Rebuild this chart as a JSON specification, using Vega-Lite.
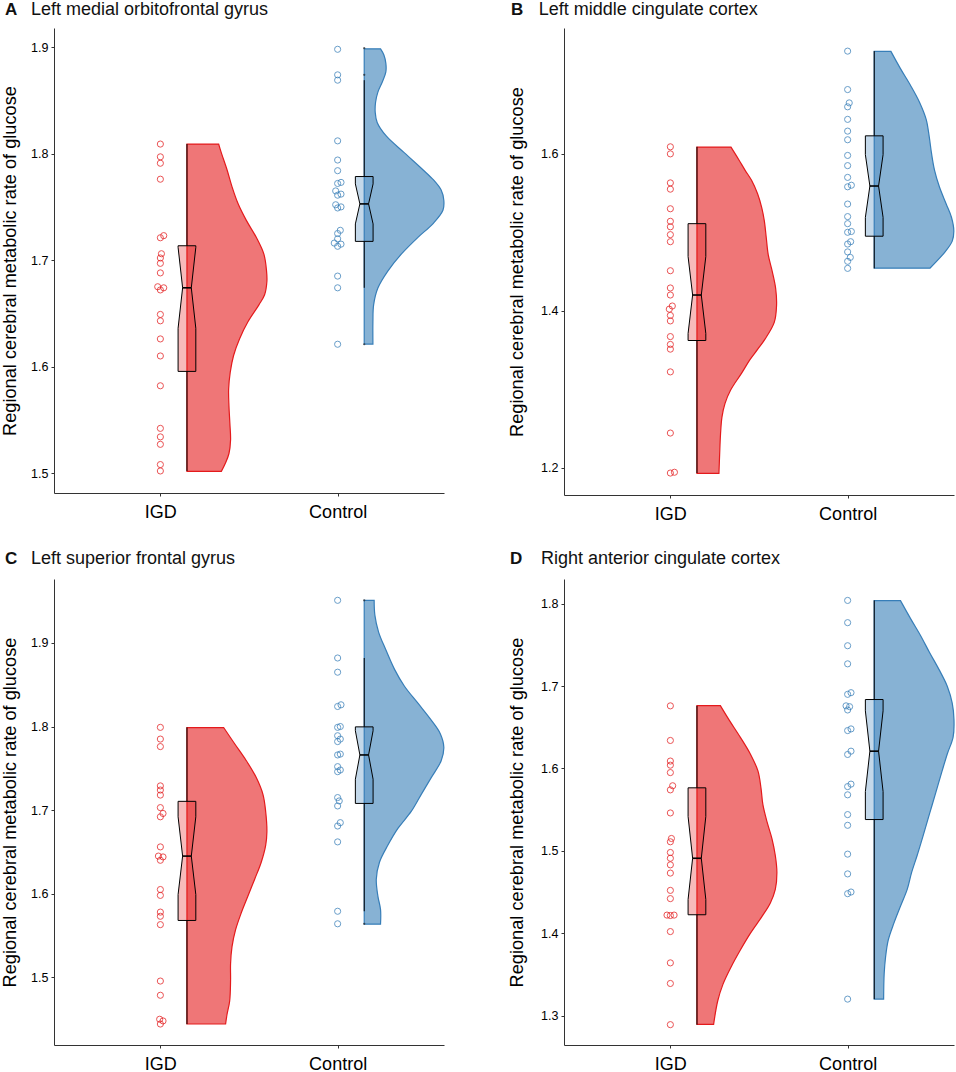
{"$schema":"https://vega.github.io/schema/vega-lite/v6.json","background":"white","padding":{"left":0,"top":0,"right":0,"bottom":0},"config":{"view":{"stroke":null},"font":"Liberation Sans","axis":{"grid":false,"domainColor":"#333333","tickColor":"#333333","labelColor":"#000000","titleColor":"#000000","titleFontWeight":"normal","labelFont":"Liberation Sans","titleFont":"Liberation Sans"}},
"datasets":{
"violin":[
{"panel":"A","group":"IGD","base":1.15,"value":1.809,"edge":1.329},{"panel":"A","group":"IGD","base":1.15,"value":1.8007,"edge":1.344},{"panel":"A","group":"IGD","base":1.15,"value":1.7849,"edge":1.376},{"panel":"A","group":"IGD","base":1.15,"value":1.769,"edge":1.404},{"panel":"A","group":"IGD","base":1.15,"value":1.7531,"edge":1.438},{"panel":"A","group":"IGD","base":1.15,"value":1.7373,"edge":1.485},{"panel":"A","group":"IGD","base":1.15,"value":1.7214,"edge":1.541},{"panel":"A","group":"IGD","base":1.15,"value":1.7056,"edge":1.584},{"panel":"A","group":"IGD","base":1.15,"value":1.6897,"edge":1.599},{"panel":"A","group":"IGD","base":1.15,"value":1.6802,"edge":1.601},{"panel":"A","group":"IGD","base":1.15,"value":1.6675,"edge":1.588},{"panel":"A","group":"IGD","base":1.15,"value":1.658,"edge":1.556},{"panel":"A","group":"IGD","base":1.15,"value":1.6421,"edge":1.494},{"panel":"A","group":"IGD","base":1.15,"value":1.6262,"edge":1.447},{"panel":"A","group":"IGD","base":1.15,"value":1.6104,"edge":1.413},{"panel":"A","group":"IGD","base":1.15,"value":1.5945,"edge":1.394},{"panel":"A","group":"IGD","base":1.15,"value":1.5787,"edge":1.385},{"panel":"A","group":"IGD","base":1.15,"value":1.5628,"edge":1.387},{"panel":"A","group":"IGD","base":1.15,"value":1.5469,"edge":1.392},{"panel":"A","group":"IGD","base":1.15,"value":1.5311,"edge":1.396},{"panel":"A","group":"IGD","base":1.15,"value":1.5184,"edge":1.387},{"panel":"A","group":"IGD","base":1.15,"value":1.5089,"edge":1.366},{"panel":"A","group":"IGD","base":1.15,"value":1.5016,"edge":1.344},
{"panel":"A","group":"Control","base":2.15,"value":1.8984,"edge":2.242},{"panel":"A","group":"Control","base":2.15,"value":1.8927,"edge":2.261},{"panel":"A","group":"Control","base":2.15,"value":1.8848,"edge":2.272},{"panel":"A","group":"Control","base":2.15,"value":1.8768,"edge":2.272},{"panel":"A","group":"Control","base":2.15,"value":1.8673,"edge":2.252},{"panel":"A","group":"Control","base":2.15,"value":1.8578,"edge":2.227},{"panel":"A","group":"Control","base":2.15,"value":1.8483,"edge":2.214},{"panel":"A","group":"Control","base":2.15,"value":1.8388,"edge":2.212},{"panel":"A","group":"Control","base":2.15,"value":1.8293,"edge":2.223},{"panel":"A","group":"Control","base":2.15,"value":1.8166,"edge":2.274},{"panel":"A","group":"Control","base":2.15,"value":1.8007,"edge":2.377},{"panel":"A","group":"Control","base":2.15,"value":1.7849,"edge":2.481},{"panel":"A","group":"Control","base":2.15,"value":1.7753,"edge":2.541},{"panel":"A","group":"Control","base":2.15,"value":1.7658,"edge":2.584},{"panel":"A","group":"Control","base":2.15,"value":1.7563,"edge":2.599},{"panel":"A","group":"Control","base":2.15,"value":1.7468,"edge":2.594},{"panel":"A","group":"Control","base":2.15,"value":1.7341,"edge":2.537},{"panel":"A","group":"Control","base":2.15,"value":1.7214,"edge":2.453},{"panel":"A","group":"Control","base":2.15,"value":1.7056,"edge":2.359},{"panel":"A","group":"Control","base":2.15,"value":1.6897,"edge":2.283},{"panel":"A","group":"Control","base":2.15,"value":1.6738,"edge":2.227},{"panel":"A","group":"Control","base":2.15,"value":1.658,"edge":2.203},{"panel":"A","group":"Control","base":2.15,"value":1.6421,"edge":2.199},{"panel":"A","group":"Control","base":2.15,"value":1.6212,"edge":2.199},
{"panel":"B","group":"IGD","base":1.15,"value":1.6086,"edge":1.342},{"panel":"B","group":"IGD","base":1.15,"value":1.5922,"edge":1.387},{"panel":"B","group":"IGD","base":1.15,"value":1.5793,"edge":1.421},{"panel":"B","group":"IGD","base":1.15,"value":1.5663,"edge":1.458},{"panel":"B","group":"IGD","base":1.15,"value":1.5491,"edge":1.492},{"panel":"B","group":"IGD","base":1.15,"value":1.5318,"edge":1.515},{"panel":"B","group":"IGD","base":1.15,"value":1.5146,"edge":1.53},{"panel":"B","group":"IGD","base":1.15,"value":1.493,"edge":1.541},{"panel":"B","group":"IGD","base":1.15,"value":1.4714,"edge":1.552},{"panel":"B","group":"IGD","base":1.15,"value":1.4498,"edge":1.575},{"panel":"B","group":"IGD","base":1.15,"value":1.4283,"edge":1.594},{"panel":"B","group":"IGD","base":1.15,"value":1.4067,"edge":1.599},{"panel":"B","group":"IGD","base":1.15,"value":1.3851,"edge":1.586},{"panel":"B","group":"IGD","base":1.15,"value":1.3635,"edge":1.533},{"panel":"B","group":"IGD","base":1.15,"value":1.3506,"edge":1.492},{"panel":"B","group":"IGD","base":1.15,"value":1.3376,"edge":1.449},{"panel":"B","group":"IGD","base":1.15,"value":1.3204,"edge":1.402},{"panel":"B","group":"IGD","base":1.15,"value":1.2988,"edge":1.34},{"panel":"B","group":"IGD","base":1.15,"value":1.2816,"edge":1.308},{"panel":"B","group":"IGD","base":1.15,"value":1.2643,"edge":1.291},{"panel":"B","group":"IGD","base":1.15,"value":1.2427,"edge":1.283},{"panel":"B","group":"IGD","base":1.15,"value":1.2168,"edge":1.278},{"panel":"B","group":"IGD","base":1.15,"value":1.1927,"edge":1.274},
{"panel":"B","group":"Control","base":2.15,"value":1.7307,"edge":2.244},{"panel":"B","group":"Control","base":2.15,"value":1.7087,"edge":2.298},{"panel":"B","group":"Control","base":2.15,"value":1.6872,"edge":2.355},{"panel":"B","group":"Control","base":2.15,"value":1.6656,"edge":2.406},{"panel":"B","group":"Control","base":2.15,"value":1.644,"edge":2.443},{"panel":"B","group":"Control","base":2.15,"value":1.6224,"edge":2.46},{"panel":"B","group":"Control","base":2.15,"value":1.6009,"edge":2.473},{"panel":"B","group":"Control","base":2.15,"value":1.5793,"edge":2.49},{"panel":"B","group":"Control","base":2.15,"value":1.5577,"edge":2.518},{"panel":"B","group":"Control","base":2.15,"value":1.5361,"edge":2.556},{"panel":"B","group":"Control","base":2.15,"value":1.5189,"edge":2.586},{"panel":"B","group":"Control","base":2.15,"value":1.5016,"edge":2.599},{"panel":"B","group":"Control","base":2.15,"value":1.4887,"edge":2.59},{"panel":"B","group":"Control","base":2.15,"value":1.4757,"edge":2.552},{"panel":"B","group":"Control","base":2.15,"value":1.4542,"edge":2.464},
{"panel":"C","group":"IGD","base":1.15,"value":1.7988,"edge":1.357},{"panel":"C","group":"IGD","base":1.15,"value":1.7794,"edge":1.419},{"panel":"C","group":"IGD","base":1.15,"value":1.7591,"edge":1.485},{"panel":"C","group":"IGD","base":1.15,"value":1.7389,"edge":1.541},{"panel":"C","group":"IGD","base":1.15,"value":1.7186,"edge":1.579},{"panel":"C","group":"IGD","base":1.15,"value":1.6984,"edge":1.594},{"panel":"C","group":"IGD","base":1.15,"value":1.6741,"edge":1.601},{"panel":"C","group":"IGD","base":1.15,"value":1.6579,"edge":1.594},{"panel":"C","group":"IGD","base":1.15,"value":1.6377,"edge":1.569},{"panel":"C","group":"IGD","base":1.15,"value":1.6174,"edge":1.532},{"panel":"C","group":"IGD","base":1.15,"value":1.5972,"edge":1.494},{"panel":"C","group":"IGD","base":1.15,"value":1.5769,"edge":1.456},{"panel":"C","group":"IGD","base":1.15,"value":1.5567,"edge":1.424},{"panel":"C","group":"IGD","base":1.15,"value":1.5364,"edge":1.404},{"panel":"C","group":"IGD","base":1.15,"value":1.5162,"edge":1.396},{"panel":"C","group":"IGD","base":1.15,"value":1.496,"edge":1.396},{"panel":"C","group":"IGD","base":1.15,"value":1.4717,"edge":1.391},{"panel":"C","group":"IGD","base":1.15,"value":1.4555,"edge":1.376},{"panel":"C","group":"IGD","base":1.15,"value":1.4441,"edge":1.368},
{"panel":"C","group":"Control","base":2.15,"value":1.951,"edge":2.206},{"panel":"C","group":"Control","base":2.15,"value":1.9332,"edge":2.21},{"panel":"C","group":"Control","base":2.15,"value":1.913,"edge":2.231},{"panel":"C","group":"Control","base":2.15,"value":1.8927,"edge":2.27},{"panel":"C","group":"Control","base":2.15,"value":1.8684,"edge":2.321},{"panel":"C","group":"Control","base":2.15,"value":1.8482,"edge":2.377},{"panel":"C","group":"Control","base":2.15,"value":1.8279,"edge":2.453},{"panel":"C","group":"Control","base":2.15,"value":1.8077,"edge":2.528},{"panel":"C","group":"Control","base":2.15,"value":1.7915,"edge":2.579},{"panel":"C","group":"Control","base":2.15,"value":1.7753,"edge":2.599},{"panel":"C","group":"Control","base":2.15,"value":1.7591,"edge":2.584},{"panel":"C","group":"Control","base":2.15,"value":1.7389,"edge":2.528},{"panel":"C","group":"Control","base":2.15,"value":1.7186,"edge":2.471},{"panel":"C","group":"Control","base":2.15,"value":1.6984,"edge":2.415},{"panel":"C","group":"Control","base":2.15,"value":1.6781,"edge":2.34},{"panel":"C","group":"Control","base":2.15,"value":1.6579,"edge":2.283},{"panel":"C","group":"Control","base":2.15,"value":1.6377,"edge":2.236},{"panel":"C","group":"Control","base":2.15,"value":1.6174,"edge":2.218},{"panel":"C","group":"Control","base":2.15,"value":1.5972,"edge":2.227},{"panel":"C","group":"Control","base":2.15,"value":1.581,"edge":2.242},{"panel":"C","group":"Control","base":2.15,"value":1.5636,"edge":2.242},
{"panel":"D","group":"IGD","base":1.15,"value":1.6763,"edge":1.282},{"panel":"D","group":"IGD","base":1.15,"value":1.6587,"edge":1.332},{"panel":"D","group":"IGD","base":1.15,"value":1.6381,"edge":1.394},{"panel":"D","group":"IGD","base":1.15,"value":1.6176,"edge":1.451},{"panel":"D","group":"IGD","base":1.15,"value":1.597,"edge":1.494},{"panel":"D","group":"IGD","base":1.15,"value":1.5765,"edge":1.511},{"panel":"D","group":"IGD","base":1.15,"value":1.556,"edge":1.522},{"panel":"D","group":"IGD","base":1.15,"value":1.5354,"edge":1.545},{"panel":"D","group":"IGD","base":1.15,"value":1.5149,"edge":1.573},{"panel":"D","group":"IGD","base":1.15,"value":1.4943,"edge":1.592},{"panel":"D","group":"IGD","base":1.15,"value":1.4738,"edge":1.601},{"panel":"D","group":"IGD","base":1.15,"value":1.4532,"edge":1.592},{"panel":"D","group":"IGD","base":1.15,"value":1.4368,"edge":1.564},{"panel":"D","group":"IGD","base":1.15,"value":1.4204,"edge":1.517},{"panel":"D","group":"IGD","base":1.15,"value":1.3998,"edge":1.451},{"panel":"D","group":"IGD","base":1.15,"value":1.3793,"edge":1.394},{"panel":"D","group":"IGD","base":1.15,"value":1.3588,"edge":1.342},{"panel":"D","group":"IGD","base":1.15,"value":1.3382,"edge":1.297},{"panel":"D","group":"IGD","base":1.15,"value":1.3177,"edge":1.267},{"panel":"D","group":"IGD","base":1.15,"value":1.2893,"edge":1.244},
{"panel":"D","group":"Control","base":2.15,"value":1.8037,"edge":2.298},{"panel":"D","group":"Control","base":2.15,"value":1.7819,"edge":2.355},{"panel":"D","group":"Control","base":2.15,"value":1.7614,"edge":2.411},{"panel":"D","group":"Control","base":2.15,"value":1.7408,"edge":2.462},{"panel":"D","group":"Control","base":2.15,"value":1.7203,"edge":2.515},{"panel":"D","group":"Control","base":2.15,"value":1.6998,"edge":2.562},{"panel":"D","group":"Control","base":2.15,"value":1.6792,"edge":2.59},{"panel":"D","group":"Control","base":2.15,"value":1.6587,"edge":2.6},{"panel":"D","group":"Control","base":2.15,"value":1.6381,"edge":2.595},{"panel":"D","group":"Control","base":2.15,"value":1.6176,"edge":2.562},{"panel":"D","group":"Control","base":2.15,"value":1.597,"edge":2.533},{"panel":"D","group":"Control","base":2.15,"value":1.5765,"edge":2.505},{"panel":"D","group":"Control","base":2.15,"value":1.556,"edge":2.477},{"panel":"D","group":"Control","base":2.15,"value":1.5354,"edge":2.449},{"panel":"D","group":"Control","base":2.15,"value":1.5149,"edge":2.421},{"panel":"D","group":"Control","base":2.15,"value":1.4943,"edge":2.392},{"panel":"D","group":"Control","base":2.15,"value":1.4738,"edge":2.361},{"panel":"D","group":"Control","base":2.15,"value":1.4532,"edge":2.336},{"panel":"D","group":"Control","base":2.15,"value":1.4327,"edge":2.298},{"panel":"D","group":"Control","base":2.15,"value":1.4122,"edge":2.261},{"panel":"D","group":"Control","base":2.15,"value":1.3916,"edge":2.229},{"panel":"D","group":"Control","base":2.15,"value":1.3711,"edge":2.214},{"panel":"D","group":"Control","base":2.15,"value":1.3505,"edge":2.206},{"panel":"D","group":"Control","base":2.15,"value":1.3201,"edge":2.203}
],
"box":[
{"panel":"A","group":"IGD","value":1.7135,"left":1.1,"right":1.2},{"panel":"A","group":"IGD","value":1.712,"left":1.1,"right":1.2},{"panel":"A","group":"IGD","value":1.674,"left":1.1255,"right":1.1745},{"panel":"A","group":"IGD","value":1.636,"left":1.1,"right":1.2},{"panel":"A","group":"IGD","value":1.5955,"left":1.1,"right":1.2},
{"panel":"A","group":"Control","value":1.7785,"left":2.1,"right":2.2},{"panel":"A","group":"Control","value":1.7716,"left":2.1,"right":2.2},{"panel":"A","group":"Control","value":1.7528,"left":2.1255,"right":2.1745},{"panel":"A","group":"Control","value":1.734,"left":2.1,"right":2.2},{"panel":"A","group":"Control","value":1.7176,"left":2.1,"right":2.2},
{"panel":"B","group":"IGD","value":1.511,"left":1.1,"right":1.2},{"panel":"B","group":"IGD","value":1.469,"left":1.1,"right":1.2},{"panel":"B","group":"IGD","value":1.42,"left":1.1255,"right":1.1745},{"panel":"B","group":"IGD","value":1.371,"left":1.1,"right":1.2},{"panel":"B","group":"IGD","value":1.362,"left":1.1,"right":1.2},
{"panel":"B","group":"Control","value":1.623,"left":2.1,"right":2.2},{"panel":"B","group":"Control","value":1.599,"left":2.1,"right":2.2},{"panel":"B","group":"Control","value":1.559,"left":2.1255,"right":2.1745},{"panel":"B","group":"Control","value":1.519,"left":2.1,"right":2.2},{"panel":"B","group":"Control","value":1.495,"left":2.1,"right":2.2},
{"panel":"C","group":"IGD","value":1.7105,"left":1.1,"right":1.2},{"panel":"C","group":"IGD","value":1.692,"left":1.1,"right":1.2},{"panel":"C","group":"IGD","value":1.645,"left":1.1255,"right":1.1745},{"panel":"C","group":"IGD","value":1.599,"left":1.1,"right":1.2},{"panel":"C","group":"IGD","value":1.568,"left":1.1,"right":1.2},
{"panel":"C","group":"Control","value":1.7996,"left":2.1,"right":2.2},{"panel":"C","group":"Control","value":1.795,"left":2.1,"right":2.2},{"panel":"C","group":"Control","value":1.766,"left":2.1255,"right":2.1745},{"panel":"C","group":"Control","value":1.737,"left":2.1,"right":2.2},{"panel":"C","group":"Control","value":1.708,"left":2.1,"right":2.2},
{"panel":"D","group":"IGD","value":1.5765,"left":1.1,"right":1.2},{"panel":"D","group":"IGD","value":1.5416,"left":1.1,"right":1.2},{"panel":"D","group":"IGD","value":1.491,"left":1.1255,"right":1.1745},{"panel":"D","group":"IGD","value":1.441,"left":1.1,"right":1.2},{"panel":"D","group":"IGD","value":1.4224,"left":1.1,"right":1.2},
{"panel":"D","group":"Control","value":1.6837,"left":2.1,"right":2.2},{"panel":"D","group":"Control","value":1.67,"left":2.1,"right":2.2},{"panel":"D","group":"Control","value":1.621,"left":2.1255,"right":2.1745},{"panel":"D","group":"Control","value":1.572,"left":2.1,"right":2.2},{"panel":"D","group":"Control","value":1.538,"left":2.1,"right":2.2}
],
"median":[
{"panel":"A","group":"IGD","value":1.674,"left":1.1255,"right":1.1745},{"panel":"A","group":"Control","value":1.7528,"left":2.1255,"right":2.1745},{"panel":"B","group":"IGD","value":1.42,"left":1.1255,"right":1.1745},{"panel":"B","group":"Control","value":1.559,"left":2.1255,"right":2.1745},{"panel":"C","group":"IGD","value":1.645,"left":1.1255,"right":1.1745},{"panel":"C","group":"Control","value":1.766,"left":2.1255,"right":2.1745},{"panel":"D","group":"IGD","value":1.491,"left":1.1255,"right":1.1745},{"panel":"D","group":"Control","value":1.621,"left":2.1255,"right":2.1745}
],
"whisker":[
{"panel":"A","x":1.15,"lo":1.7135,"hi":1.809},{"panel":"A","x":1.15,"lo":1.502,"hi":1.5955},{"panel":"A","x":2.15,"lo":1.7785,"hi":1.869},{"panel":"A","x":2.15,"lo":1.674,"hi":1.7176},
{"panel":"B","x":1.15,"lo":1.511,"hi":1.609},{"panel":"B","x":1.15,"lo":1.193,"hi":1.362},{"panel":"B","x":2.15,"lo":1.623,"hi":1.731},{"panel":"B","x":2.15,"lo":1.454,"hi":1.495},
{"panel":"C","x":1.15,"lo":1.7105,"hi":1.799},{"panel":"C","x":1.15,"lo":1.444,"hi":1.568},{"panel":"C","x":2.15,"lo":1.7996,"hi":1.882},{"panel":"C","x":2.15,"lo":1.579,"hi":1.708},
{"panel":"D","x":1.15,"lo":1.5765,"hi":1.676},{"panel":"D","x":1.15,"lo":1.289,"hi":1.4224},{"panel":"D","x":2.15,"lo":1.6837,"hi":1.804},{"panel":"D","x":2.15,"lo":1.32,"hi":1.538}
],
"outlier":[
{"panel":"A","x":2.15,"value":1.899},{"panel":"A","x":2.15,"value":1.874},{"panel":"A","x":2.15,"value":1.621},{"panel":"C","x":2.15,"value":1.951},{"panel":"C","x":2.15,"value":1.564}
],
"points":[
{"panel":"A","group":"IGD","x":1,"value":1.809},{"panel":"A","group":"IGD","x":1,"value":1.797},{"panel":"A","group":"IGD","x":1,"value":1.791},{"panel":"A","group":"IGD","x":1,"value":1.776},{"panel":"A","group":"IGD","x":1.019,"value":1.723},{"panel":"A","group":"IGD","x":1,"value":1.721},{"panel":"A","group":"IGD","x":1.006,"value":1.706},{"panel":"A","group":"IGD","x":1,"value":1.702},{"panel":"A","group":"IGD","x":1,"value":1.697},{"panel":"A","group":"IGD","x":1,"value":1.688},{"panel":"A","group":"IGD","x":0.985,"value":1.675},{"panel":"A","group":"IGD","x":1.019,"value":1.674},{"panel":"A","group":"IGD","x":1,"value":1.672},{"panel":"A","group":"IGD","x":1,"value":1.649},{"panel":"A","group":"IGD","x":1,"value":1.643},{"panel":"A","group":"IGD","x":1,"value":1.626},{"panel":"A","group":"IGD","x":1,"value":1.61},{"panel":"A","group":"IGD","x":1,"value":1.582},{"panel":"A","group":"IGD","x":1,"value":1.542},{"panel":"A","group":"IGD","x":1,"value":1.534},{"panel":"A","group":"IGD","x":1,"value":1.527},{"panel":"A","group":"IGD","x":1,"value":1.508},{"panel":"A","group":"IGD","x":1,"value":1.502},
{"panel":"A","group":"Control","x":2,"value":1.898},{"panel":"A","group":"Control","x":2,"value":1.874},{"panel":"A","group":"Control","x":2,"value":1.869},{"panel":"A","group":"Control","x":2,"value":1.812},{"panel":"A","group":"Control","x":2,"value":1.794},{"panel":"A","group":"Control","x":2,"value":1.784},{"panel":"A","group":"Control","x":2.019,"value":1.773},{"panel":"A","group":"Control","x":2,"value":1.772},{"panel":"A","group":"Control","x":1.989,"value":1.765},{"panel":"A","group":"Control","x":2.019,"value":1.762},{"panel":"A","group":"Control","x":2,"value":1.761},{"panel":"A","group":"Control","x":1.989,"value":1.752},{"panel":"A","group":"Control","x":2.019,"value":1.75},{"panel":"A","group":"Control","x":2,"value":1.749},{"panel":"A","group":"Control","x":2.015,"value":1.728},{"panel":"A","group":"Control","x":2,"value":1.725},{"panel":"A","group":"Control","x":2,"value":1.72},{"panel":"A","group":"Control","x":1.981,"value":1.716},{"panel":"A","group":"Control","x":2.019,"value":1.715},{"panel":"A","group":"Control","x":2,"value":1.713},{"panel":"A","group":"Control","x":2,"value":1.685},{"panel":"A","group":"Control","x":2,"value":1.674},{"panel":"A","group":"Control","x":2,"value":1.621},
{"panel":"B","group":"IGD","x":1,"value":1.609},{"panel":"B","group":"IGD","x":1,"value":1.6},{"panel":"B","group":"IGD","x":1,"value":1.563},{"panel":"B","group":"IGD","x":1,"value":1.555},{"panel":"B","group":"IGD","x":1,"value":1.53},{"panel":"B","group":"IGD","x":1,"value":1.514},{"panel":"B","group":"IGD","x":1,"value":1.507},{"panel":"B","group":"IGD","x":1,"value":1.497},{"panel":"B","group":"IGD","x":1,"value":1.488},{"panel":"B","group":"IGD","x":1,"value":1.451},{"panel":"B","group":"IGD","x":1,"value":1.429},{"panel":"B","group":"IGD","x":1,"value":1.42},{"panel":"B","group":"IGD","x":1.011,"value":1.406},{"panel":"B","group":"IGD","x":0.994,"value":1.402},{"panel":"B","group":"IGD","x":1,"value":1.394},{"panel":"B","group":"IGD","x":1,"value":1.387},{"panel":"B","group":"IGD","x":1,"value":1.367},{"panel":"B","group":"IGD","x":1,"value":1.357},{"panel":"B","group":"IGD","x":1,"value":1.351},{"panel":"B","group":"IGD","x":1,"value":1.322},{"panel":"B","group":"IGD","x":1,"value":1.244},{"panel":"B","group":"IGD","x":1.023,"value":1.194},{"panel":"B","group":"IGD","x":1,"value":1.193},
{"panel":"B","group":"Control","x":2,"value":1.731},{"panel":"B","group":"Control","x":2,"value":1.682},{"panel":"B","group":"Control","x":2.009,"value":1.665},{"panel":"B","group":"Control","x":2,"value":1.66},{"panel":"B","group":"Control","x":2,"value":1.644},{"panel":"B","group":"Control","x":2,"value":1.629},{"panel":"B","group":"Control","x":2,"value":1.618},{"panel":"B","group":"Control","x":2,"value":1.598},{"panel":"B","group":"Control","x":2,"value":1.585},{"panel":"B","group":"Control","x":2,"value":1.57},{"panel":"B","group":"Control","x":2.021,"value":1.56},{"panel":"B","group":"Control","x":2,"value":1.558},{"panel":"B","group":"Control","x":2,"value":1.536},{"panel":"B","group":"Control","x":2,"value":1.52},{"panel":"B","group":"Control","x":2,"value":1.511},{"panel":"B","group":"Control","x":2.021,"value":1.501},{"panel":"B","group":"Control","x":2,"value":1.5},{"panel":"B","group":"Control","x":2.017,"value":1.488},{"panel":"B","group":"Control","x":2,"value":1.485},{"panel":"B","group":"Control","x":2,"value":1.475},{"panel":"B","group":"Control","x":2.015,"value":1.468},{"panel":"B","group":"Control","x":2,"value":1.463},{"panel":"B","group":"Control","x":2,"value":1.454},
{"panel":"C","group":"IGD","x":1,"value":1.799},{"panel":"C","group":"IGD","x":1,"value":1.785},{"panel":"C","group":"IGD","x":1,"value":1.776},{"panel":"C","group":"IGD","x":1,"value":1.729},{"panel":"C","group":"IGD","x":1,"value":1.724},{"panel":"C","group":"IGD","x":1,"value":1.718},{"panel":"C","group":"IGD","x":1,"value":1.703},{"panel":"C","group":"IGD","x":1.015,"value":1.696},{"panel":"C","group":"IGD","x":1,"value":1.692},{"panel":"C","group":"IGD","x":1,"value":1.656},{"panel":"C","group":"IGD","x":0.989,"value":1.645},{"panel":"C","group":"IGD","x":1.015,"value":1.644},{"panel":"C","group":"IGD","x":1,"value":1.64},{"panel":"C","group":"IGD","x":1,"value":1.605},{"panel":"C","group":"IGD","x":1,"value":1.598},{"panel":"C","group":"IGD","x":1,"value":1.578},{"panel":"C","group":"IGD","x":1,"value":1.573},{"panel":"C","group":"IGD","x":1,"value":1.563},{"panel":"C","group":"IGD","x":1,"value":1.4955},{"panel":"C","group":"IGD","x":1,"value":1.4785},{"panel":"C","group":"IGD","x":0.996,"value":1.4498},{"panel":"C","group":"IGD","x":1.015,"value":1.4478},{"panel":"C","group":"IGD","x":1,"value":1.4441},
{"panel":"C","group":"Control","x":2,"value":1.951},{"panel":"C","group":"Control","x":2,"value":1.882},{"panel":"C","group":"Control","x":2,"value":1.865},{"panel":"C","group":"Control","x":2.019,"value":1.826},{"panel":"C","group":"Control","x":2,"value":1.824},{"panel":"C","group":"Control","x":2.015,"value":1.8},{"panel":"C","group":"Control","x":2,"value":1.799},{"panel":"C","group":"Control","x":2,"value":1.789},{"panel":"C","group":"Control","x":2.015,"value":1.785},{"panel":"C","group":"Control","x":2,"value":1.782},{"panel":"C","group":"Control","x":2.015,"value":1.767},{"panel":"C","group":"Control","x":2,"value":1.766},{"panel":"C","group":"Control","x":2,"value":1.752},{"panel":"C","group":"Control","x":2.015,"value":1.748},{"panel":"C","group":"Control","x":2,"value":1.746},{"panel":"C","group":"Control","x":2,"value":1.715},{"panel":"C","group":"Control","x":2.009,"value":1.711},{"panel":"C","group":"Control","x":2,"value":1.705},{"panel":"C","group":"Control","x":2.015,"value":1.685},{"panel":"C","group":"Control","x":2,"value":1.681},{"panel":"C","group":"Control","x":2,"value":1.662},{"panel":"C","group":"Control","x":2,"value":1.579},{"panel":"C","group":"Control","x":2,"value":1.564},
{"panel":"D","group":"IGD","x":1,"value":1.676},{"panel":"D","group":"IGD","x":1,"value":1.634},{"panel":"D","group":"IGD","x":1,"value":1.609},{"panel":"D","group":"IGD","x":1,"value":1.604},{"panel":"D","group":"IGD","x":1,"value":1.595},{"panel":"D","group":"IGD","x":1.013,"value":1.579},{"panel":"D","group":"IGD","x":1,"value":1.574},{"panel":"D","group":"IGD","x":1,"value":1.546},{"panel":"D","group":"IGD","x":1.006,"value":1.515},{"panel":"D","group":"IGD","x":1,"value":1.511},{"panel":"D","group":"IGD","x":1,"value":1.498},{"panel":"D","group":"IGD","x":1,"value":1.491},{"panel":"D","group":"IGD","x":1,"value":1.483},{"panel":"D","group":"IGD","x":1,"value":1.473},{"panel":"D","group":"IGD","x":1,"value":1.452},{"panel":"D","group":"IGD","x":1,"value":1.442},{"panel":"D","group":"IGD","x":0.981,"value":1.422},{"panel":"D","group":"IGD","x":1,"value":1.4215},{"panel":"D","group":"IGD","x":1.021,"value":1.422},{"panel":"D","group":"IGD","x":1,"value":1.402},{"panel":"D","group":"IGD","x":1,"value":1.364},{"panel":"D","group":"IGD","x":1,"value":1.339},{"panel":"D","group":"IGD","x":1,"value":1.289},
{"panel":"D","group":"Control","x":2,"value":1.804},{"panel":"D","group":"Control","x":2,"value":1.777},{"panel":"D","group":"Control","x":2,"value":1.749},{"panel":"D","group":"Control","x":2,"value":1.727},{"panel":"D","group":"Control","x":2.019,"value":1.692},{"panel":"D","group":"Control","x":2,"value":1.69},{"panel":"D","group":"Control","x":1.991,"value":1.676},{"panel":"D","group":"Control","x":2.011,"value":1.675},{"panel":"D","group":"Control","x":2,"value":1.671},{"panel":"D","group":"Control","x":2.019,"value":1.648},{"panel":"D","group":"Control","x":2,"value":1.646},{"panel":"D","group":"Control","x":2.019,"value":1.621},{"panel":"D","group":"Control","x":2,"value":1.617},{"panel":"D","group":"Control","x":2.019,"value":1.581},{"panel":"D","group":"Control","x":2,"value":1.578},{"panel":"D","group":"Control","x":2,"value":1.568},{"panel":"D","group":"Control","x":2,"value":1.544},{"panel":"D","group":"Control","x":2,"value":1.531},{"panel":"D","group":"Control","x":2,"value":1.496},{"panel":"D","group":"Control","x":2,"value":1.472},{"panel":"D","group":"Control","x":2.019,"value":1.45},{"panel":"D","group":"Control","x":2,"value":1.448},{"panel":"D","group":"Control","x":2,"value":1.32}
]
},
"columns":2,"bounds":"flush","spacing":{"row":84,"column":120},
"concat":[
{"width":390,"height":465,
"layer":[
{"data":{"name":"points"},"transform":[{"filter":"datum.panel==='A'"}],"mark":{"type":"point","shape":"circle","filled":false,"size":38,"strokeWidth":1,"opacity":0.75},"encoding":{"x":{"field":"x","type":"quantitative","scale":{"domain":[0.4,2.6],"nice":false,"zero":false},"axis":{"values":[1,2],"labelExpr":"datum.value==1?'IGD':'Control'","title":null,"labelFontSize":18,"labelPadding":7.5,"tickSize":3}},"y":{"field":"value","type":"quantitative","scale":{"domain":[1.4813,1.918],"nice":false,"zero":false},"axis":{"values":[1.5,1.6,1.7,1.8,1.9],"format":".1f","title":"Regional cerebral metabolic rate of glucose","labelFontSize":12.5,"titleFontSize":18.2,"tickSize":3,"labelPadding":3,"titlePadding":11}},"color":{"field":"group","type":"nominal","scale":{"domain":["IGD","Control"],"range":["#E41A1C","#377EB8"]},"legend":null}}},
{"data":{"name":"violin"},"transform":[{"filter":"datum.panel==='A'"}],"mark":{"type":"area","orient":"horizontal","interpolate":"catmull-rom","fillOpacity":0.6,"strokeWidth":1.2},"encoding":{"y":{"field":"value","type":"quantitative"},"x":{"field":"base","type":"quantitative"},"x2":{"field":"edge"},"fill":{"field":"group","type":"nominal","scale":{"domain":["IGD","Control"],"range":["#E41A1C","#377EB8"]},"legend":null},"stroke":{"field":"group","type":"nominal","scale":{"domain":["IGD","Control"],"range":["#E41A1C","#377EB8"]},"legend":null}}},
{"data":{"name":"whisker"},"transform":[{"filter":"datum.panel==='A'"}],"mark":{"type":"rule","color":"black","strokeWidth":1},"encoding":{"x":{"field":"x","type":"quantitative"},"y":{"field":"lo","type":"quantitative"},"y2":{"field":"hi"}}},
{"data":{"name":"outlier"},"transform":[{"filter":"datum.panel==='A'"}],"mark":{"type":"point","shape":"circle","filled":true,"size":5,"color":"#222222","opacity":0.7},"encoding":{"x":{"field":"x","type":"quantitative"},"y":{"field":"value","type":"quantitative"}}},
{"data":{"name":"box"},"transform":[{"filter":"datum.panel==='A'"}],"mark":{"type":"area","orient":"horizontal","fillOpacity":0.3,"stroke":"black","strokeWidth":1},"encoding":{"y":{"field":"value","type":"quantitative"},"x":{"field":"left","type":"quantitative"},"x2":{"field":"right"},"fill":{"field":"group","type":"nominal","scale":{"domain":["IGD","Control"],"range":["#E41A1C","#377EB8"]},"legend":null}}},
{"data":{"name":"median"},"transform":[{"filter":"datum.panel==='A'"}],"mark":{"type":"rule","color":"black","strokeWidth":1.6},"encoding":{"y":{"field":"value","type":"quantitative"},"x":{"field":"left","type":"quantitative"},"x2":{"field":"right"}}},
{"data":{"values":[{"heading":"Left medial orbitofrontal gyrus"}]},"mark":{"type":"text","align":"left","baseline":"middle","fontSize":18,"color":"#111111"},"encoding":{"x":{"datum":0.27,"type":"quantitative"},"y":{"datum":1.9349,"type":"quantitative"},"text":{"field":"heading"}}},
{"data":{"values":[{"letter":"A"}]},"mark":{"type":"text","align":"left","baseline":"middle","fontSize":17,"fontWeight":"bold","color":"#111111"},"encoding":{"x":{"datum":0.1236,"type":"quantitative"},"y":{"datum":1.9349,"type":"quantitative"},"text":{"field":"letter"}}}
]},
{"width":390,"height":467,
"layer":[
{"data":{"name":"points"},"transform":[{"filter":"datum.panel==='B'"}],"mark":{"type":"point","shape":"circle","filled":false,"size":38,"strokeWidth":1,"opacity":0.75},"encoding":{"x":{"field":"x","type":"quantitative","scale":{"domain":[0.4,2.6],"nice":false,"zero":false},"axis":{"values":[1,2],"labelExpr":"datum.value==1?'IGD':'Control'","title":null,"labelFontSize":18,"labelPadding":7.5,"tickSize":3}},"y":{"field":"value","type":"quantitative","scale":{"domain":[1.165,1.7605],"nice":false,"zero":false},"axis":{"values":[1.2,1.4,1.6],"format":".1f","title":"Regional cerebral metabolic rate of glucose","labelFontSize":12.5,"titleFontSize":18.2,"tickSize":3,"labelPadding":3,"titlePadding":14}},"color":{"field":"group","type":"nominal","scale":{"domain":["IGD","Control"],"range":["#E41A1C","#377EB8"]},"legend":null}}},
{"data":{"name":"violin"},"transform":[{"filter":"datum.panel==='B'"}],"mark":{"type":"area","orient":"horizontal","interpolate":"catmull-rom","fillOpacity":0.6,"strokeWidth":1.2},"encoding":{"y":{"field":"value","type":"quantitative"},"x":{"field":"base","type":"quantitative"},"x2":{"field":"edge"},"fill":{"field":"group","type":"nominal","scale":{"domain":["IGD","Control"],"range":["#E41A1C","#377EB8"]},"legend":null},"stroke":{"field":"group","type":"nominal","scale":{"domain":["IGD","Control"],"range":["#E41A1C","#377EB8"]},"legend":null}}},
{"data":{"name":"whisker"},"transform":[{"filter":"datum.panel==='B'"}],"mark":{"type":"rule","color":"black","strokeWidth":1},"encoding":{"x":{"field":"x","type":"quantitative"},"y":{"field":"lo","type":"quantitative"},"y2":{"field":"hi"}}},
{"data":{"name":"box"},"transform":[{"filter":"datum.panel==='B'"}],"mark":{"type":"area","orient":"horizontal","fillOpacity":0.3,"stroke":"black","strokeWidth":1},"encoding":{"y":{"field":"value","type":"quantitative"},"x":{"field":"left","type":"quantitative"},"x2":{"field":"right"},"fill":{"field":"group","type":"nominal","scale":{"domain":["IGD","Control"],"range":["#E41A1C","#377EB8"]},"legend":null}}},
{"data":{"name":"median"},"transform":[{"filter":"datum.panel==='B'"}],"mark":{"type":"rule","color":"black","strokeWidth":1.6},"encoding":{"y":{"field":"value","type":"quantitative"},"x":{"field":"left","type":"quantitative"},"x2":{"field":"right"}}},
{"data":{"values":[{"heading":"Left middle cingulate cortex"}]},"mark":{"type":"text","align":"left","baseline":"middle","fontSize":18,"color":"#111111"},"encoding":{"x":{"datum":0.257,"type":"quantitative"},"y":{"datum":1.7835,"type":"quantitative"},"text":{"field":"heading"}}},
{"data":{"values":[{"letter":"B"}]},"mark":{"type":"text","align":"left","baseline":"middle","fontSize":17,"fontWeight":"bold","color":"#111111"},"encoding":{"x":{"datum":0.101,"type":"quantitative"},"y":{"datum":1.7835,"type":"quantitative"},"text":{"field":"letter"}}}
]},
{"width":390,"height":466,
"layer":[
{"data":{"name":"points"},"transform":[{"filter":"datum.panel==='C'"}],"mark":{"type":"point","shape":"circle","filled":false,"size":38,"strokeWidth":1,"opacity":0.75},"encoding":{"x":{"field":"x","type":"quantitative","scale":{"domain":[0.4,2.6],"nice":false,"zero":false},"axis":{"values":[1,2],"labelExpr":"datum.value==1?'IGD':'Control'","title":null,"labelFontSize":18,"labelPadding":7.5,"tickSize":3}},"y":{"field":"value","type":"quantitative","scale":{"domain":[1.419,1.9765],"nice":false,"zero":false},"axis":{"values":[1.5,1.6,1.7,1.8,1.9],"format":".1f","title":"Regional cerebral metabolic rate of glucose","labelFontSize":12.5,"titleFontSize":18.2,"tickSize":3,"labelPadding":3,"titlePadding":11}},"color":{"field":"group","type":"nominal","scale":{"domain":["IGD","Control"],"range":["#E41A1C","#377EB8"]},"legend":null}}},
{"data":{"name":"violin"},"transform":[{"filter":"datum.panel==='C'"}],"mark":{"type":"area","orient":"horizontal","interpolate":"catmull-rom","fillOpacity":0.6,"strokeWidth":1.2},"encoding":{"y":{"field":"value","type":"quantitative"},"x":{"field":"base","type":"quantitative"},"x2":{"field":"edge"},"fill":{"field":"group","type":"nominal","scale":{"domain":["IGD","Control"],"range":["#E41A1C","#377EB8"]},"legend":null},"stroke":{"field":"group","type":"nominal","scale":{"domain":["IGD","Control"],"range":["#E41A1C","#377EB8"]},"legend":null}}},
{"data":{"name":"whisker"},"transform":[{"filter":"datum.panel==='C'"}],"mark":{"type":"rule","color":"black","strokeWidth":1},"encoding":{"x":{"field":"x","type":"quantitative"},"y":{"field":"lo","type":"quantitative"},"y2":{"field":"hi"}}},
{"data":{"name":"outlier"},"transform":[{"filter":"datum.panel==='C'"}],"mark":{"type":"point","shape":"circle","filled":true,"size":5,"color":"#222222","opacity":0.7},"encoding":{"x":{"field":"x","type":"quantitative"},"y":{"field":"value","type":"quantitative"}}},
{"data":{"name":"box"},"transform":[{"filter":"datum.panel==='C'"}],"mark":{"type":"area","orient":"horizontal","fillOpacity":0.3,"stroke":"black","strokeWidth":1},"encoding":{"y":{"field":"value","type":"quantitative"},"x":{"field":"left","type":"quantitative"},"x2":{"field":"right"},"fill":{"field":"group","type":"nominal","scale":{"domain":["IGD","Control"],"range":["#E41A1C","#377EB8"]},"legend":null}}},
{"data":{"name":"median"},"transform":[{"filter":"datum.panel==='C'"}],"mark":{"type":"rule","color":"black","strokeWidth":1.6},"encoding":{"y":{"field":"value","type":"quantitative"},"x":{"field":"left","type":"quantitative"},"x2":{"field":"right"}}},
{"data":{"values":[{"heading":"Left superior frontal gyrus"}]},"mark":{"type":"text","align":"left","baseline":"middle","fontSize":18,"color":"#111111"},"encoding":{"x":{"datum":0.27,"type":"quantitative"},"y":{"datum":2.0004,"type":"quantitative"},"text":{"field":"heading"}}},
{"data":{"values":[{"letter":"C"}]},"mark":{"type":"text","align":"left","baseline":"middle","fontSize":17,"fontWeight":"bold","color":"#111111"},"encoding":{"x":{"datum":0.1236,"type":"quantitative"},"y":{"datum":2.0004,"type":"quantitative"},"text":{"field":"letter"}}}
]},
{"width":390,"height":466,
"layer":[
{"data":{"name":"points"},"transform":[{"filter":"datum.panel==='D'"}],"mark":{"type":"point","shape":"circle","filled":false,"size":38,"strokeWidth":1,"opacity":0.75},"encoding":{"x":{"field":"x","type":"quantitative","scale":{"domain":[0.4,2.6],"nice":false,"zero":false},"axis":{"values":[1,2],"labelExpr":"datum.value==1?'IGD':'Control'","title":null,"labelFontSize":18,"labelPadding":7.5,"tickSize":3}},"y":{"field":"value","type":"quantitative","scale":{"domain":[1.2643,1.83],"nice":false,"zero":false},"axis":{"values":[1.3,1.4,1.5,1.6,1.7,1.8],"format":".1f","title":"Regional cerebral metabolic rate of glucose","labelFontSize":12.5,"titleFontSize":18.2,"tickSize":3,"labelPadding":3,"titlePadding":14}},"color":{"field":"group","type":"nominal","scale":{"domain":["IGD","Control"],"range":["#E41A1C","#377EB8"]},"legend":null}}},
{"data":{"name":"violin"},"transform":[{"filter":"datum.panel==='D'"}],"mark":{"type":"area","orient":"horizontal","interpolate":"catmull-rom","fillOpacity":0.6,"strokeWidth":1.2},"encoding":{"y":{"field":"value","type":"quantitative"},"x":{"field":"base","type":"quantitative"},"x2":{"field":"edge"},"fill":{"field":"group","type":"nominal","scale":{"domain":["IGD","Control"],"range":["#E41A1C","#377EB8"]},"legend":null},"stroke":{"field":"group","type":"nominal","scale":{"domain":["IGD","Control"],"range":["#E41A1C","#377EB8"]},"legend":null}}},
{"data":{"name":"whisker"},"transform":[{"filter":"datum.panel==='D'"}],"mark":{"type":"rule","color":"black","strokeWidth":1},"encoding":{"x":{"field":"x","type":"quantitative"},"y":{"field":"lo","type":"quantitative"},"y2":{"field":"hi"}}},
{"data":{"name":"box"},"transform":[{"filter":"datum.panel==='D'"}],"mark":{"type":"area","orient":"horizontal","fillOpacity":0.3,"stroke":"black","strokeWidth":1},"encoding":{"y":{"field":"value","type":"quantitative"},"x":{"field":"left","type":"quantitative"},"x2":{"field":"right"},"fill":{"field":"group","type":"nominal","scale":{"domain":["IGD","Control"],"range":["#E41A1C","#377EB8"]},"legend":null}}},
{"data":{"name":"median"},"transform":[{"filter":"datum.panel==='D'"}],"mark":{"type":"rule","color":"black","strokeWidth":1.6},"encoding":{"y":{"field":"value","type":"quantitative"},"x":{"field":"left","type":"quantitative"},"x2":{"field":"right"}}},
{"data":{"values":[{"heading":"Right anterior cingulate cortex"}]},"mark":{"type":"text","align":"left","baseline":"middle","fontSize":18,"color":"#111111"},"encoding":{"x":{"datum":0.27,"type":"quantitative"},"y":{"datum":1.8543,"type":"quantitative"},"text":{"field":"heading"}}},
{"data":{"values":[{"letter":"D"}]},"mark":{"type":"text","align":"left","baseline":"middle","fontSize":17,"fontWeight":"bold","color":"#111111"},"encoding":{"x":{"datum":0.0954,"type":"quantitative"},"y":{"datum":1.8543,"type":"quantitative"},"text":{"field":"letter"}}}
]}
]}
